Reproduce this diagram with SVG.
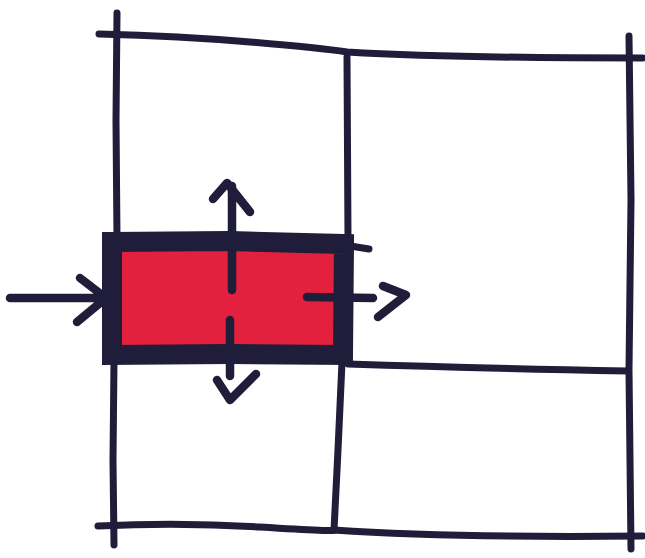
<svg xmlns="http://www.w3.org/2000/svg" width="645" height="558" viewBox="0 0 645 558">
<style>
.ink{fill:none;stroke:#1f1d3a;stroke-width:7;stroke-linecap:round;stroke-linejoin:round}
.arrow{fill:none;stroke:#1f1d3a;stroke-width:8.5;stroke-linecap:round;stroke-linejoin:round}
.thick{fill:none;stroke:#1f1d3a;stroke-width:20;stroke-linejoin:miter}
.red{fill:#e3213f}
</style>
<rect width="645" height="558" fill="#ffffff"/>
<g id="grid">
<path class="ink" d="M117 13 L116 120 L117 240 M114 360 L113 460 L114 545"/>
<path class="ink" d="M99 34 Q180 36 250 42 T347 52 Q450 58 643 58"/>
<path class="ink" d="M347 57 L348 240 M342 362 L338 450 L334 530"/>
<path class="ink" d="M629 36 L631 200 L629 370 L631 549"/>
<path class="ink" d="M98 526 Q180 522 260 527 T334 530 Q450 538 643 536"/>
<path class="ink" d="M348 364 Q470 368 628 371"/>
</g>
<g id="box">
<rect class="red" x="118" y="246" width="222" height="104"/>
<path class="thick" d="M112 242 L230 241 L344 244 L343 355 L230 354 L112 355 Z"/>
<path class="ink" d="M344 245 L369 249"/>
</g>
<g id="connectors">
<path class="arrow" d="M10 298 L106 298 M80 278 L106 298 L77 322"/>
<path class="arrow" d="M232 290 L232 186 M213 199 L227 183 L250 212"/>
<path class="arrow" d="M230 320 L230 376 M217 380 L230 400 L256 374"/>
<path class="arrow" d="M307 297 L373 298 M383 286 L406 295 L378 317"/>
</g>
</svg>
